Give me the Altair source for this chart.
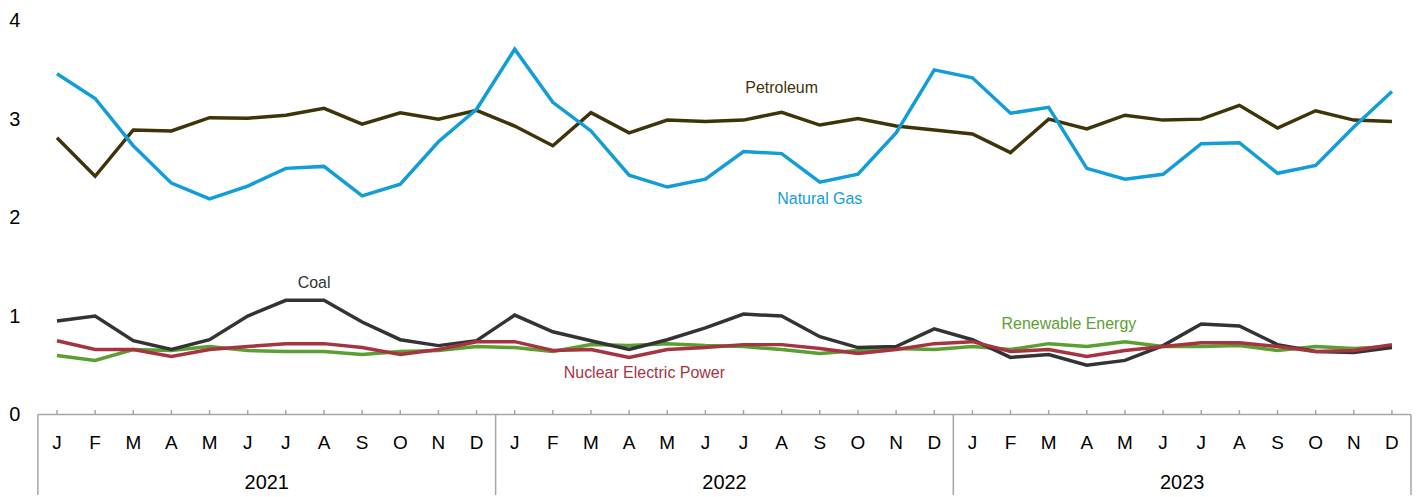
import altair as alt
import pandas as pd

months = ["J", "F", "M", "A", "M", "J", "J", "A", "S", "O", "N", "D"]
years = ["2021", "2022", "2023"]

natural_gas = [3.46, 3.21, 2.73, 2.35, 2.19, 2.32, 2.50, 2.52, 2.22, 2.34, 2.77, 3.10,
               3.71, 3.17, 2.88, 2.43, 2.31, 2.39, 2.67, 2.65, 2.36, 2.44, 2.86, 3.50,
               3.42, 3.06, 3.12, 2.50, 2.39, 2.44, 2.75, 2.76, 2.45, 2.53, 2.92, 3.28]
petroleum = [2.81, 2.42, 2.89, 2.88, 3.015, 3.01, 3.04, 3.11, 2.95, 3.065, 3.00, 3.09,
             2.93, 2.73, 3.065, 2.86, 2.99, 2.975, 2.99, 3.07, 2.94, 3.005, 2.93, 2.89,
             2.85, 2.66, 3.00, 2.90, 3.04, 2.99, 3.00, 3.14, 2.91, 3.085, 2.99, 2.975]
coal = [0.95, 1.00, 0.75, 0.66, 0.76, 1.00, 1.16, 1.16, 0.94, 0.76, 0.70, 0.75,
        1.01, 0.84, 0.75, 0.66, 0.76, 0.88, 1.02, 1.00, 0.79, 0.68, 0.69, 0.87,
        0.76, 0.58, 0.61, 0.50, 0.55, 0.70, 0.92, 0.90, 0.71, 0.64, 0.63, 0.68]
nuclear = [0.75, 0.66, 0.66, 0.59, 0.66, 0.69, 0.72, 0.72, 0.68, 0.61, 0.66, 0.74,
           0.74, 0.65, 0.66, 0.58, 0.66, 0.68, 0.71, 0.71, 0.67, 0.62, 0.66, 0.72,
           0.74, 0.64, 0.66, 0.59, 0.65, 0.69, 0.73, 0.73, 0.69, 0.64, 0.65, 0.71]
renewable = [0.60, 0.55, 0.66, 0.65, 0.69, 0.65, 0.64, 0.64, 0.61, 0.64, 0.65, 0.69,
             0.68, 0.64, 0.71, 0.70, 0.72, 0.70, 0.69, 0.66, 0.62, 0.65, 0.67, 0.66,
             0.69, 0.66, 0.72, 0.69, 0.74, 0.69, 0.69, 0.70, 0.65, 0.69, 0.67, 0.69]

series_names = ["Renewable Energy", "Coal", "Nuclear Electric Power", "Petroleum", "Natural Gas"]
series_values = [renewable, coal, nuclear, petroleum, natural_gas]
series_colors = ["#5b9f32", "#333333", "#a6333f", "#3f3309", "#119dd8"]

# annotation anchors (month index, value)
label_x = [26.53, 6.74, 15.4, 19.0, 20.0]
label_y = [0.92, 1.34, 0.42, 3.32, 2.19]

FONT = "Liberation Sans"
AXIS_GRAY = "#a6a6a6"

n = len(natural_gas)
idx = list(range(n))

xscale = alt.Scale(domain=[-0.5, n - 0.5], nice=False, zero=False)
yscale = alt.Scale(domain=[0, 4], nice=False)

H = 395

layers = []
for name, vals, col in zip(series_names, series_values, series_colors):
    df = pd.DataFrame({"i": idx, "v": vals, "s": name})
    layers.append(
        alt.Chart(df).mark_line(color=col, strokeWidth=3.5, strokeJoin="miter").encode(
            x=alt.X("i:Q", scale=xscale, axis=None),
            y=alt.Y("v:Q", scale=yscale,
                    axis=alt.Axis(values=[0, 1, 2, 3, 4], domain=False, ticks=False, grid=False,
                                  labelFont=FONT, labelFontSize=20, labelColor="#000000",
                                  labelPadding=18, title=None, format="d")),
        )
    )

for name, col, lx, ly in zip(series_names, series_colors, label_x, label_y):
    ldf = pd.DataFrame({"i": [lx], "v": [ly], "t": [name]})
    layers.append(
        alt.Chart(ldf).mark_text(font=FONT, fontSize=16, color=col, align="center", baseline="middle").encode(
            x=alt.X("i:Q", scale=xscale), y=alt.Y("v:Q", scale=yscale), text="t:N"
        )
    )

# month axis
mdf = pd.DataFrame({"i": idx, "m": months * len(years)})
layers.append(
    alt.Chart(mdf).mark_rule(color=AXIS_GRAY, strokeWidth=1.5).encode(
        x=alt.X("i:Q", scale=xscale), y=alt.value(H - 4.5), y2=alt.value(H)
    )
)
layers.append(
    alt.Chart(mdf).mark_text(font=FONT, fontSize=19, color="#000000", baseline="middle").encode(
        x=alt.X("i:Q", scale=xscale), y=alt.value(424), text="m:N"
    )
)
adf = pd.DataFrame({"a": [-0.5], "b": [n - 0.5]})
layers.append(
    alt.Chart(adf).mark_rule(color=AXIS_GRAY, strokeWidth=1.5).encode(
        x=alt.X("a:Q", scale=xscale), x2="b:Q", y=alt.value(H)
    )
)
sdf = pd.DataFrame({"i": [-0.5 + 12 * k for k in range(len(years) + 1)]})
layers.append(
    alt.Chart(sdf).mark_rule(color=AXIS_GRAY, strokeWidth=1.5).encode(
        x=alt.X("i:Q", scale=xscale), y=alt.value(H), y2=alt.value(485)
    )
)
ydf = pd.DataFrame({"i": [5.5 + 12 * k for k in range(len(years))], "y": years})
layers.append(
    alt.Chart(ydf).mark_text(font=FONT, fontSize=20, color="#000000", baseline="middle").encode(
        x=alt.X("i:Q", scale=xscale), y=alt.value(464), text="y:N"
    )
)

chart = alt.layer(*layers).properties(
    width=1377, height=H,
    background="white",
    autosize=alt.AutoSizeParams(type="none"),
    padding={"left": 30, "top": 12, "right": 5, "bottom": 80},
).configure_view(stroke=None, strokeWidth=0)

chart.save("out.html", embed_options={"renderer": "svg", "actions": False})
